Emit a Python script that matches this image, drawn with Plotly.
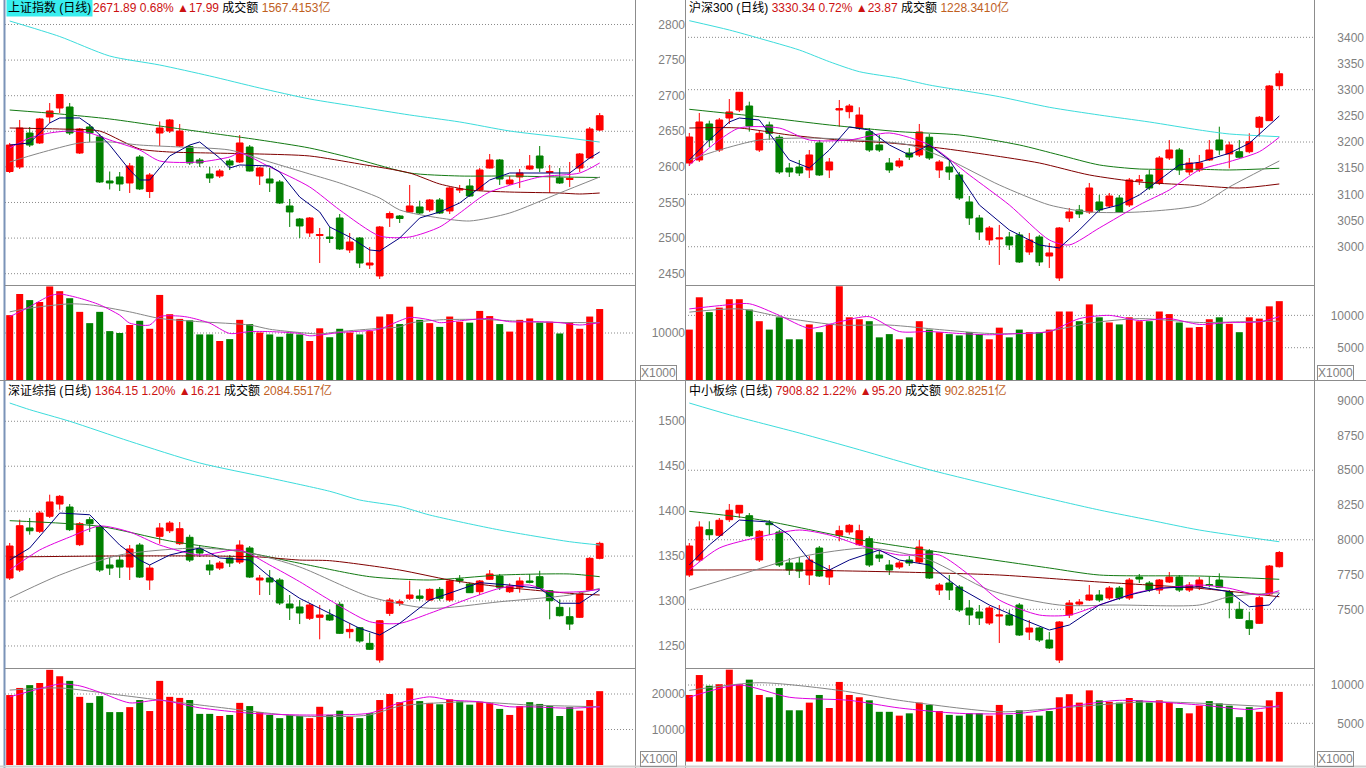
import plotly.graph_objects as go

W, H = 1366, 768
N = 60
X = list(range(N))

RED = "#ff0000"
GREEN = "#008000"
C_CYAN = "#3cdcdc"
C_DKGREEN = "#137a13"
C_MAROON = "#800000"
C_GRAY = "#868686"
C_MAG = "#e000e0"
C_NAVY = "#000080"
GRID = "#8a8a8a"
AXTXT = "#7f7f7f"
FRAME = "#8c8c8c"
FONT = "Liberation Sans, Noto Sans CJK SC, DejaVu Sans, sans-serif"

# ---------------- 上证指数 (top-left) ----------------
TL_OPEN = [2593.5, 2599.9, 2647.6, 2633.6, 2670.1, 2682.7, 2684.1, 2619.5, 2656.0, 2642.0,
           2580.2, 2585.8, 2577.4, 2613.9, 2565.4, 2647.6, 2650.4, 2629.3, 2628.6, 2609.7,
           2590.0, 2587.2, 2608.3, 2606.9, 2627.9, 2587.2, 2583.0, 2578.8, 2545.1, 2526.8,
           2507.2, 2503.6, 2501.5, 2528.2, 2483.3, 2500.1, 2462.2, 2446.8, 2528.2, 2531.0,
           2536.7, 2543.7, 2539.5, 2553.5, 2538.1, 2567.5, 2573.2, 2567.5, 2598.4, 2609.7,
           2576.0, 2585.8, 2597.0, 2615.3, 2592.1, 2584.4, 2582.3, 2598.4, 2612.5, 2651.8]
TL_HIGH = [2633.6, 2665.9, 2656.0, 2668.7, 2689.7, 2702.4, 2689.7, 2654.6, 2660.2, 2646.2,
           2593.5, 2592.8, 2605.5, 2616.7, 2591.4, 2663.8, 2667.3, 2660.2, 2630.7, 2612.5,
           2599.9, 2597.0, 2611.1, 2644.8, 2630.7, 2599.9, 2598.4, 2581.6, 2554.9, 2528.2,
           2529.6, 2514.2, 2515.6, 2533.8, 2507.2, 2501.5, 2487.5, 2517.0, 2537.4, 2532.4,
           2574.6, 2552.5, 2554.9, 2556.3, 2571.8, 2574.6, 2583.0, 2598.4, 2618.1, 2611.1,
           2587.2, 2597.0, 2616.7, 2629.3, 2602.7, 2598.4, 2606.9, 2619.5, 2656.0, 2675.7]
TL_LOW = [2591.4, 2597.0, 2627.9, 2632.2, 2661.6, 2675.7, 2644.8, 2618.1, 2635.0, 2577.4,
          2568.3, 2566.1, 2563.3, 2567.5, 2556.3, 2629.3, 2647.6, 2627.9, 2602.7, 2599.9,
          2577.4, 2584.4, 2595.6, 2605.5, 2593.5, 2574.6, 2564.7, 2547.9, 2515.6, 2500.1,
          2501.5, 2465.0, 2493.1, 2483.3, 2479.1, 2458.0, 2456.6, 2442.5, 2515.6, 2521.2,
          2536.0, 2533.8, 2536.7, 2533.8, 2533.8, 2563.3, 2557.7, 2566.1, 2597.7, 2574.6,
          2574.6, 2570.4, 2595.6, 2592.8, 2563.3, 2576.0, 2571.8, 2592.8, 2611.8, 2650.4]
TL_CLOSE = [2630.7, 2654.6, 2630.7, 2667.3, 2678.5, 2701.7, 2647.6, 2653.2, 2647.6, 2578.8,
            2577.4, 2576.0, 2601.3, 2569.0, 2588.6, 2654.6, 2665.9, 2650.4, 2605.5, 2605.5,
            2584.4, 2594.2, 2602.7, 2633.6, 2594.2, 2598.4, 2577.4, 2549.3, 2536.7, 2517.0,
            2528.2, 2505.0, 2499.4, 2484.7, 2494.5, 2465.0, 2465.0, 2515.6, 2534.5, 2527.5,
            2545.1, 2535.2, 2553.5, 2535.2, 2570.4, 2569.0, 2559.1, 2595.6, 2609.7, 2583.0,
            2581.6, 2591.4, 2601.3, 2598.4, 2593.5, 2577.4, 2583.7, 2618.1, 2653.2, 2671.89]
TL_VOL = [13800, 18300, 17000, 16600, 19900, 18900, 17400, 14500, 12100, 14500,
          10400, 10000, 11700, 12600, 10900, 18100, 14000, 13000, 12700, 9700,
          9700, 8300, 8700, 12800, 11900, 10100, 9700, 9200, 9900, 9700,
          8300, 11000, 9100, 10900, 10100, 9700, 10400, 13500, 14000, 11900,
          15600, 12800, 12100, 11300, 13500, 12400, 12200, 14700, 13600, 11900,
          10300, 12800, 13100, 12200, 12400, 9900, 12300, 10900, 13500, 15100]
TL_MA_CYAN = [(0, 2804.9), (5, 2783.1), (10, 2755.7), (15, 2743.1), (20, 2727.7), (25, 2710.8),
              (30, 2695.4), (35, 2684.1), (40, 2672.9), (45, 2663.1), (50, 2650.4), (55, 2642.0),
              (59, 2634.9)]
TL_MA_GREEN = [(0, 2679.9), (5, 2674.3), (10, 2667.3), (15, 2657.4), (20, 2647.6), (25, 2637.8),
               (30, 2626.5), (35, 2609.7), (40, 2591.4), (45, 2587.2), (50, 2587.2), (55, 2585.8),
               (59, 2585.1)]
TL_MA_MAROON = [(0, 2654.6), (5, 2653.2), (9, 2650.4), (11, 2637.8), (13, 2625.1), (16, 2620.9),
                (20, 2619.5), (25, 2618.1), (30, 2615.3), (35, 2604.1), (40, 2591.4), (43, 2576.0),
                (46, 2567.5), (50, 2564.7), (55, 2563.3), (57, 2561.9), (59, 2563.3)]
TL_MA_GRAY = [(0, 2606.9), (3, 2619.5), (7, 2633.6), (10, 2635.0), (13, 2630.7), (17, 2627.9),
              (22, 2623.7), (26, 2606.9), (30, 2590.0), (33, 2577.4), (37, 2556.3), (39, 2539.5),
              (43, 2528.2), (46, 2524.0), (50, 2535.2), (55, 2563.3), (59, 2585.8)]
TL_MA_MAG = [(0, 2626.5), (2, 2640.6), (4, 2647.6), (6, 2650.4), (8, 2647.6), (10, 2637.8),
             (13, 2623.7), (15, 2608.3), (19, 2606.9), (22, 2613.9), (23, 2619.5), (26, 2599.9),
             (30, 2571.8), (33, 2539.5), (37, 2502.9), (40, 2501.5), (43, 2515.6), (45, 2535.2),
             (47, 2556.3), (48, 2564.7), (53, 2585.8), (57, 2591.4), (59, 2605.5)]
TL_MA_NAVY = [(0, 2630.7), (2, 2633.6), (3, 2647.6), (4, 2661.6), (5, 2668.7), (7, 2668.7),
              (8, 2658.8), (10, 2630.7), (12, 2595.6), (13, 2581.6), (14, 2581.6), (16, 2615.3),
              (18, 2630.7), (19, 2635.0), (21, 2612.5), (22, 2598.4), (23, 2602.7), (26, 2601.3),
              (27, 2592.8), (29, 2557.7), (31, 2536.7), (32, 2515.6), (34, 2501.5), (36, 2483.3),
              (37, 2481.9), (39, 2500.1), (41, 2528.2), (43, 2536.7), (45, 2549.3), (46, 2560.5),
              (48, 2581.6), (50, 2591.4), (53, 2591.4), (56, 2591.4), (58, 2612.5), (59, 2620.9)]
TL_VMA_MAG = [(0, 13500), (1, 14500), (2, 15600), (4, 17900), (5, 18300), (7, 17400), (9, 16000),
              (11, 13800), (12, 12100), (14, 11700), (15, 13500), (17, 13600), (18, 13300),
              (20, 12100), (22, 9900), (24, 10300), (26, 10300), (29, 9900), (30, 9400),
              (33, 10100), (37, 10800), (38, 11700), (40, 13300), (42, 12800), (43, 12200),
              (45, 12600), (47, 13000), (48, 13100), (50, 12400), (53, 12400), (55, 12200),
              (57, 11700), (59, 12200)]
TL_VMA_GRAY = [(0, 14500), (2, 15300), (6, 16200), (8, 16000), (12, 14500), (15, 13100),
               (19, 12400), (24, 11700), (26, 10800), (29, 10100), (31, 9800), (33, 10300),
               (37, 11000), (39, 11300), (40, 12100), (43, 12800), (47, 12900), (50, 12600),
               (53, 12300), (59, 12200)]

# ---------------- 沪深300 (top-right) ----------------
TR_OPEN = [3160.0, 3165.7, 3234.5, 3184.8, 3245.9, 3261.2, 3268.8, 3184.8, 3232.6, 3209.1,
           3150.4, 3152.3, 3146.6, 3198.2, 3146.6, 3261.2, 3258.0, 3226.2, 3219.8, 3194.4,
           3160.0, 3154.2, 3179.1, 3175.3, 3209.1, 3146.6, 3152.3, 3137.1, 3085.5, 3054.9,
           3012.9, 3014.8, 3018.6, 3022.5, 2990.0, 3018.6, 2982.3, 2940.3, 3054.9, 3070.2,
           3066.4, 3085.5, 3077.8, 3093.1, 3079.8, 3125.6, 3137.1, 3121.8, 3169.5, 3184.8,
           3142.8, 3146.6, 3165.7, 3203.9, 3177.2, 3181.5, 3181.5, 3228.2, 3240.8, 3307.6]
TR_HIGH = [3217.3, 3255.5, 3240.8, 3245.9, 3282.2, 3295.6, 3277.1, 3221.1, 3238.9, 3213.5,
           3160.0, 3165.7, 3184.8, 3203.9, 3169.5, 3280.3, 3272.7, 3266.4, 3226.8, 3213.5,
           3169.5, 3169.5, 3188.6, 3234.5, 3215.4, 3165.7, 3165.7, 3142.8, 3096.9, 3060.7,
           3039.6, 3041.6, 3028.2, 3028.2, 3026.3, 3022.5, 3007.2, 3037.7, 3074.0, 3079.8,
           3121.8, 3098.9, 3102.7, 3098.9, 3131.3, 3137.1, 3146.6, 3173.3, 3203.9, 3188.6,
           3169.5, 3175.3, 3203.9, 3229.3, 3200.7, 3203.9, 3216.7, 3249.7, 3308.9, 3336.3]
TR_LOW = [3154.2, 3161.9, 3190.5, 3181.0, 3234.5, 3257.4, 3219.8, 3181.0, 3203.9, 3139.0,
          3133.2, 3135.1, 3131.3, 3135.1, 3131.3, 3229.3, 3245.3, 3223.0, 3181.0, 3181.0,
          3141.0, 3150.4, 3165.7, 3171.4, 3165.7, 3131.3, 3127.5, 3089.3, 3041.6, 3012.9,
          3003.4, 2965.2, 2993.8, 2969.0, 2984.3, 2963.2, 2959.4, 2934.6, 3047.3, 3054.9,
          3062.6, 3066.4, 3074.0, 3064.5, 3075.9, 3118.0, 3108.4, 3118.0, 3165.7, 3137.1,
          3137.1, 3142.8, 3163.8, 3175.3, 3149.8, 3169.5, 3178.5, 3210.2, 3240.2, 3299.4]
TR_CLOSE = [3209.6, 3238.3, 3203.9, 3242.1, 3257.4, 3295.0, 3230.6, 3216.7, 3216.7, 3142.8,
            3142.8, 3140.9, 3175.3, 3137.1, 3161.9, 3263.7, 3268.8, 3251.6, 3184.8, 3184.8,
            3146.6, 3163.8, 3171.4, 3219.2, 3169.5, 3161.9, 3142.8, 3093.1, 3054.9, 3028.2,
            3035.8, 3016.7, 3003.4, 2970.9, 3012.9, 2970.9, 2988.1, 3035.8, 3066.4, 3062.6,
            3112.2, 3070.2, 3096.9, 3066.4, 3127.5, 3127.5, 3112.2, 3169.5, 3184.8, 3146.6,
            3160.0, 3160.0, 3184.8, 3184.8, 3194.4, 3170.9, 3200.7, 3247.3, 3307.0, 3330.34]
TR_VOL = [7800, 12800, 10500, 11200, 12500, 12500, 10900, 9100, 7800, 9700,
          6300, 6300, 8600, 7400, 8600, 14500, 9700, 9400, 9100, 6600,
          7100, 6300, 6600, 9100, 7800, 7400, 7100, 6900, 7400, 7100,
          6300, 8100, 6600, 7800, 7400, 7400, 7800, 10600, 10600, 9100,
          11700, 9700, 8900, 8600, 9700, 9100, 9100, 10600, 10200, 8900,
          8100, 8200, 9400, 9700, 8700, 7400, 9700, 9500, 11400, 12200]
TR_MA_CYAN = [(0, 3431.8), (4, 3414.0), (7, 3398.1), (11, 3375.8), (14, 3353.5), (17, 3334.4),
              (21, 3321.7), (24, 3308.9), (27, 3299.4), (31, 3286.6), (36, 3266.4), (41, 3251.6),
              (46, 3238.3), (51, 3223.0), (54, 3215.4), (59, 3210.2)]
TR_MA_GREEN = [(0, 3262.5), (7, 3248.4), (14, 3232.6), (21, 3219.8), (27, 3213.5), (33, 3194.4),
               (37, 3175.3), (41, 3156.2), (45, 3148.5), (51, 3147.9), (54, 3146.6), (59, 3149.9)]
TR_MA_MAROON = [(0, 3226.8), (5, 3226.8), (10, 3213.5), (15, 3203.9), (20, 3198.2), (25, 3188.6),
                (30, 3175.3), (35, 3160.0), (40, 3137.1), (45, 3123.7), (50, 3118.0), (55, 3112.2),
                (59, 3119.9)]
TR_MA_GRAY = [(0, 3165.7), (3, 3184.8), (7, 3203.9), (12, 3207.7), (17, 3203.9), (22, 3194.4),
              (26, 3165.7), (31, 3118.0), (36, 3079.8), (40, 3066.4), (45, 3066.4), (51, 3079.8),
              (54, 3114.1), (59, 3163.8)]
TR_MA_MAG = [(0, 3156.2), (3, 3203.9), (5, 3226.8), (9, 3226.8), (12, 3203.9), (16, 3203.9),
             (20, 3217.3), (24, 3194.4), (28, 3137.1), (32, 3079.8), (36, 3012.9), (38, 3003.4),
             (41, 3035.8), (45, 3079.8), (48, 3108.4), (51, 3146.6), (54, 3162.5), (57, 3181.5),
             (59, 3209.1)]
TR_MA_NAVY = [(0, 3165.7), (2, 3203.9), (4, 3238.3), (5, 3245.9), (7, 3242.1), (10, 3165.7),
              (12, 3150.4), (14, 3184.8), (16, 3228.7), (18, 3223.0), (20, 3194.4), (22, 3175.3),
              (24, 3194.4), (26, 3165.7), (29, 3079.8), (32, 3032.0), (35, 3003.4), (37, 2997.6),
              (39, 3032.0), (41, 3070.2), (43, 3079.8), (45, 3098.9), (47, 3127.5), (49, 3156.2),
              (51, 3161.3), (54, 3178.5), (56, 3197.6), (59, 3249.7)]
TR_VMA_MAG = [(0, 11000), (3, 11500), (6, 11800), (9, 10000), (12, 8000), (15, 9000), (18, 9800),
              (21, 7500), (24, 7500), (27, 7200), (30, 7000), (33, 7200), (36, 7500), (39, 9500),
              (42, 10000), (45, 9200), (48, 9500), (51, 8600), (54, 8900), (57, 9000), (59, 9800)]
TR_VMA_GRAY = [(0, 10500), (5, 11000), (10, 9500), (15, 8500), (20, 8500), (25, 7800), (30, 7200),
               (35, 7300), (40, 8800), (45, 9500), (51, 8900), (55, 9000), (59, 9100)]

# ---------------- 深证综指 (bottom-left) ----------------
BL_OPEN = [1325.6, 1334.5, 1381.3, 1377.6, 1394.3, 1407.9, 1404.6, 1362.7, 1390.5, 1382.4,
           1340.1, 1345.6, 1337.8, 1362.3, 1323.4, 1372.0, 1378.2, 1363.8, 1370.9, 1357.9,
           1340.1, 1336.7, 1347.9, 1343.4, 1359.0, 1323.4, 1325.6, 1323.4, 1296.7, 1293.4,
           1280.8, 1281.9, 1284.5, 1296.4, 1265.9, 1270.3, 1252.9, 1234.4, 1286.3, 1297.5,
           1303.0, 1305.6, 1301.1, 1313.0, 1301.1, 1324.5, 1318.9, 1310.4, 1324.2, 1327.8,
           1310.4, 1315.3, 1322.3, 1327.1, 1311.5, 1293.0, 1282.6, 1281.9, 1312.3, 1347.5]
BL_HIGH = [1364.6, 1390.5, 1392.4, 1400.2, 1418.3, 1417.9, 1407.9, 1387.9, 1393.5, 1384.6,
           1347.9, 1350.1, 1362.3, 1364.6, 1340.1, 1386.8, 1389.0, 1387.9, 1373.8, 1362.3,
           1345.6, 1344.5, 1351.2, 1367.6, 1361.2, 1329.0, 1334.5, 1325.6, 1306.7, 1301.1,
           1297.8, 1295.6, 1290.8, 1299.2, 1275.2, 1271.1, 1264.7, 1278.9, 1303.4, 1301.9,
           1322.6, 1313.0, 1314.2, 1315.6, 1324.2, 1328.9, 1320.4, 1323.4, 1334.5, 1330.1,
           1319.7, 1326.4, 1330.1, 1333.7, 1312.3, 1301.9, 1293.0, 1310.4, 1348.9, 1366.0]
BL_LOW = [1323.4, 1332.3, 1373.8, 1375.7, 1392.4, 1401.6, 1377.9, 1361.2, 1376.8, 1332.3,
          1329.0, 1325.6, 1323.4, 1325.6, 1312.3, 1363.8, 1375.7, 1362.3, 1343.4, 1349.0,
          1329.0, 1334.5, 1337.8, 1341.2, 1325.6, 1306.7, 1306.7, 1295.6, 1278.9, 1274.4,
          1278.9, 1257.4, 1277.8, 1263.3, 1258.5, 1253.6, 1245.5, 1231.4, 1283.4, 1294.5,
          1301.1, 1300.4, 1300.0, 1300.4, 1299.2, 1319.7, 1308.9, 1306.7, 1323.4, 1312.3,
          1308.9, 1309.3, 1319.7, 1313.4, 1279.7, 1282.8, 1267.8, 1281.1, 1311.2, 1346.4]
BL_CLOSE = [1361.2, 1383.8, 1378.2, 1397.9, 1410.2, 1416.5, 1379.4, 1386.0, 1386.0, 1334.5,
            1336.7, 1337.8, 1357.9, 1326.7, 1336.7, 1381.3, 1386.8, 1380.5, 1345.6, 1353.4,
            1334.5, 1342.3, 1342.3, 1362.3, 1326.7, 1325.6, 1321.2, 1297.8, 1292.3, 1286.7,
            1295.6, 1284.5, 1278.9, 1264.1, 1268.5, 1255.5, 1246.3, 1278.1, 1301.1, 1299.2,
            1306.7, 1303.0, 1313.0, 1303.0, 1322.3, 1322.6, 1309.3, 1322.3, 1330.1, 1315.3,
            1316.7, 1322.3, 1320.8, 1314.2, 1300.4, 1283.7, 1274.4, 1308.6, 1347.5, 1364.15]
BL_VOL = [19700, 21700, 22500, 23100, 26800, 25000, 23700, 19200, 17500, 19400,
          14900, 14900, 16300, 18300, 15200, 23700, 19200, 18900, 18300, 14400,
          14400, 13800, 14100, 17500, 16600, 14900, 14100, 13200, 14100, 13800,
          13200, 16400, 14100, 15300, 13600, 13200, 14600, 18300, 20000, 17700,
          21600, 18000, 17500, 17100, 18500, 17900, 17000, 17800, 17400, 15800,
          14100, 16600, 17700, 17200, 16600, 13800, 16300, 15300, 18300, 20800]
BL_MA_CYAN = [(0, 1520.3), (2, 1512.9), (6, 1500.0), (12, 1477.7), (19, 1453.6), (26, 1436.9),
              (32, 1422.1), (35, 1412.4), (39, 1405.3), (42, 1395.7), (49, 1379.0), (56, 1366.0),
              (59, 1362.3)]
BL_MA_GREEN = [(0, 1389.4), (9, 1383.1), (16, 1366.8), (24, 1353.4), (29, 1342.0), (36, 1327.1),
               (42, 1323.4), (49, 1328.9), (56, 1330.1), (59, 1327.1)]
BL_MA_MAROON = [(0, 1349.0), (10, 1350.1), (20, 1350.1), (25, 1349.0), (29, 1345.6), (32, 1344.9),
                (39, 1334.5), (44, 1323.4), (49, 1315.9), (56, 1308.6), (59, 1306.7)]
BL_MA_GRAY = [(0, 1303.4), (5, 1328.9), (11, 1351.2), (19, 1359.0), (24, 1353.4), (29, 1337.9),
              (36, 1304.8), (42, 1291.9), (49, 1299.2), (56, 1306.7), (59, 1314.1)]
BL_MA_MAG = [(0, 1334.5), (3, 1356.8), (6, 1371.2), (9, 1383.5), (12, 1376.8), (15, 1362.3),
             (19, 1351.2), (23, 1356.8), (26, 1340.1), (29, 1321.5), (32, 1301.1), (36, 1277.0),
             (39, 1275.2), (42, 1286.3), (46, 1303.0), (49, 1314.1), (52, 1317.8), (54, 1310.4),
             (57, 1310.4), (59, 1313.0)]
BL_MA_NAVY = [(0, 1345.6), (2, 1359.0), (5, 1397.9), (8, 1396.0), (9, 1384.9), (11, 1362.3),
              (13, 1345.6), (14, 1340.1), (16, 1351.2), (19, 1359.0), (21, 1347.9), (24, 1345.6),
              (27, 1317.8), (29, 1303.0), (32, 1286.3), (35, 1269.6), (37, 1262.2), (39, 1275.2),
              (42, 1301.1), (45, 1312.3), (47, 1320.4), (50, 1317.8), (53, 1314.1), (55, 1297.5),
              (57, 1297.5), (59, 1312.3)]
BL_VMA_MAG = [(0, 19200), (3, 21500), (5, 22800), (7, 22300), (9, 20500), (12, 17500),
              (15, 18300), (19, 16100), (24, 14600), (29, 14100), (32, 14100), (36, 14600),
              (39, 17500), (42, 19200), (44, 18300), (47, 17800), (50, 16400), (52, 16400),
              (56, 16000), (59, 16400)]
BL_VMA_GRAY = [(0, 21100), (5, 21700), (11, 19700), (19, 16900), (29, 13800), (36, 14100),
               (39, 16600), (46, 17800), (52, 16900), (59, 16400)]

# ---------------- 中小板综 (bottom-right) ----------------
BR_OPEN = [7746.7, 7854.5, 8072.4, 8032.3, 8144.5, 8192.4, 8173.0, 7854.5, 8120.7, 8055.8,
           7833.0, 7833.0, 7746.7, 7940.8, 7732.3, 8032.3, 8055.8, 7964.5, 8007.7, 7890.5,
           7818.6, 7804.2, 7854.5, 7840.1, 7919.2, 7638.8, 7689.1, 7660.3, 7509.4, 7480.6,
           7401.5, 7451.9, 7459.0, 7531.0, 7336.8, 7365.5, 7279.3, 7135.4, 7459.0, 7538.1,
           7566.9, 7602.9, 7581.3, 7653.1, 7581.3, 7732.3, 7689.1, 7638.8, 7696.3, 7732.3,
           7638.8, 7660.3, 7678.4, 7710.7, 7626.6, 7500.0, 7418.1, 7399.4, 7610.0, 7806.3]
BR_HIGH = [7976.8, 8132.8, 8132.8, 8156.7, 8257.4, 8250.0, 8192.4, 8070.2, 8142.1, 8070.2,
           7868.9, 7876.1, 7883.3, 7955.2, 7818.6, 8101.3, 8113.5, 8108.5, 8025.0, 7926.4,
           7854.5, 7847.3, 7883.3, 7998.3, 7933.6, 7689.1, 7746.7, 7674.7, 7566.9, 7531.0,
           7523.8, 7531.0, 7495.0, 7545.3, 7423.1, 7372.7, 7336.8, 7416.0, 7566.9, 7574.1,
           7674.7, 7638.8, 7667.5, 7667.5, 7725.1, 7753.9, 7703.5, 7717.9, 7768.2, 7746.7,
           7696.3, 7732.3, 7734.5, 7758.8, 7638.8, 7554.7, 7482.8, 7595.7, 7818.6, 7919.2]
BR_LOW = [7732.3, 7840.1, 7998.3, 8020.1, 8128.0, 8156.7, 8020.1, 7840.1, 8034.3, 7804.2,
          7746.7, 7725.1, 7674.7, 7732.3, 7674.7, 7989.0, 8036.4, 7955.2, 7804.2, 7840.1,
          7746.7, 7789.8, 7811.4, 7825.8, 7717.9, 7602.9, 7566.9, 7480.6, 7387.1, 7387.1,
          7387.1, 7257.7, 7379.9, 7308.1, 7279.3, 7264.9, 7214.6, 7113.9, 7437.5, 7523.8,
          7559.7, 7552.5, 7566.9, 7566.9, 7566.9, 7689.1, 7624.4, 7610.0, 7689.1, 7624.4,
          7624.4, 7638.8, 7658.2, 7653.1, 7435.2, 7430.2, 7315.3, 7394.4, 7602.9, 7800.6]
BR_CLOSE = [7955.2, 8091.8, 8036.4, 8140.2, 8212.1, 8247.8, 8029.2, 8060.9, 8108.5, 7818.6,
            7782.6, 7775.4, 7854.5, 7739.5, 7782.6, 8065.3, 8104.1, 8065.3, 7818.6, 7868.9,
            7782.6, 7833.0, 7833.0, 7948.0, 7725.1, 7674.7, 7638.8, 7495.0, 7459.0, 7437.5,
            7509.4, 7459.0, 7387.1, 7315.3, 7365.5, 7279.3, 7221.8, 7408.8, 7545.3, 7552.5,
            7602.9, 7566.9, 7653.1, 7581.3, 7710.7, 7717.9, 7638.8, 7710.7, 7732.3, 7638.8,
            7674.7, 7710.7, 7671.2, 7658.2, 7547.5, 7435.2, 7363.4, 7583.4, 7811.3, 7908.82]
BR_VOL = [8700, 11300, 9900, 10100, 12000, 10100, 10700, 8700, 8400, 9600,
          6700, 6700, 7700, 8700, 7000, 10400, 8700, 8400, 8000, 6500,
          6500, 6000, 6300, 7700, 7400, 6600, 6100, 6000, 6300, 6300,
          6000, 7400, 6100, 6700, 6000, 6000, 6600, 8400, 8800, 7700,
          9300, 8000, 7800, 7700, 8300, 8000, 7700, 8000, 7700, 7000,
          6300, 7300, 7900, 7600, 7300, 5800, 7100, 6500, 8000, 9100]
BR_MA_CYAN = [(0, 8983.4), (4, 8899.2), (11, 8767.7), (17, 8647.6), (24, 8503.8), (34, 8329.1),
              (41, 8214.0), (46, 8142.1), (51, 8070.2), (59, 7986.1)]
BR_MA_GREEN = [(0, 8204.7), (7, 8144.5), (17, 8000.5), (27, 7890.5), (36, 7797.1), (41, 7746.7),
               (51, 7739.5), (59, 7715.8)]
BR_MA_MAROON = [(0, 7782.6), (10, 7782.6), (21, 7768.2), (31, 7746.7), (41, 7696.3), (51, 7650.9),
                (59, 7590.5)]
BR_MA_GRAY = [(0, 7638.8), (5, 7746.7), (11, 7876.1), (18, 7940.8), (24, 7854.5), (30, 7638.8),
              (37, 7530.9), (43, 7530.9), (51, 7530.9), (54, 7590.5), (59, 7619.3)]
BR_MA_MAG = [(0, 7782.6), (3, 7940.8), (7, 8019.9), (11, 8070.2), (14, 8034.3), (17, 7962.4),
             (21, 7890.5), (25, 7890.5), (28, 7746.7), (31, 7566.9), (35, 7459.0), (38, 7459.0),
             (41, 7530.9), (45, 7624.4), (51, 7674.7), (54, 7651.0), (57, 7602.9), (59, 7633.8)]
BR_MA_NAVY = [(0, 7818.6), (2, 7962.4), (5, 8142.1), (8, 8127.7), (10, 8034.3), (12, 7854.5),
              (14, 7782.6), (16, 7854.5), (19, 7926.4), (21, 7854.5), (24, 7818.6), (27, 7653.2),
              (30, 7531.0), (33, 7437.5), (36, 7351.2), (38, 7387.1), (41, 7531.0), (44, 7602.9),
              (47, 7653.2), (51, 7662.5), (54, 7626.6), (56, 7518.7), (58, 7531.0), (59, 7615.1)]
BR_VMA_MAG = [(0, 8400), (5, 10000), (10, 8400), (16, 8000), (21, 7000), (27, 6300), (33, 6300),
              (39, 7400), (43, 8000), (51, 7400), (56, 6800), (59, 7300)]
BR_VMA_GRAY = [(0, 9300), (7, 10300), (15, 9300), (21, 8000), (31, 6500), (37, 7000), (46, 7800),
               (59, 7100)]

# ---------------- axis ticks / grid values ----------------
TL_TICKS = [2450, 2500, 2550, 2600, 2650, 2700, 2750, 2800]
TL_GRID = [2450, 2500, 2550, 2600, 2650, 2700, 2750, 2800]
TR_TICKS = [3000, 3050, 3100, 3150, 3200, 3250, 3300, 3350, 3400]
TR_GRID = [3000, 3100, 3200, 3300, 3400]
BL_TICKS = [1250, 1300, 1350, 1400, 1450, 1500]
BL_GRID = [1250, 1300, 1350, 1400, 1450, 1500]
BR_TICKS = [7500, 7750, 8000, 8250, 8500, 8750, 9000]
BR_GRID = [7500, 8000, 8500]
TL_VTICKS = [10000]
TR_VTICKS = [5000, 10000]
BL_VTICKS = [10000, 20000]
BR_VTICKS = [5000, 10000]

HEADERS = [
    ("上证指数 (日线)", "2671.89 0.68%", "▲17.99", "1567.4153亿"),
    ("沪深300 (日线)", "3330.34 0.72%", "▲23.87", "1228.3410亿"),
    ("深证综指 (日线)", "1364.15 1.20%", "▲16.21", "2084.5517亿"),
    ("中小板综 (日线)", "7908.82 1.22%", "▲95.20", "902.8251亿"),
]


def fx(p):
    return p / W


def fy(p):
    return 1 - p / H


panels = [
    dict(o=TL_OPEN, h=TL_HIGH, l=TL_LOW, c=TL_CLOSE, v=TL_VOL,
         mas=[TL_MA_CYAN, TL_MA_GREEN, TL_MA_MAROON, TL_MA_GRAY, TL_MA_MAG, TL_MA_NAVY],
         vmas=[TL_VMA_GRAY, TL_VMA_MAG], ticks=TL_TICKS, grid=TL_GRID, vticks=TL_VTICKS,
         xpx=(5, 635), xr=(-0.47, 62.53), ppx=(0, 285), pr=(2434.1, 2834.4),
         vpx=(285, 380), vr=(0, 20213), lab=685),
    dict(o=TR_OPEN, h=TR_HIGH, l=TR_LOW, c=TR_CLOSE, v=TR_VOL,
         mas=[TR_MA_CYAN, TR_MA_GREEN, TR_MA_MAROON, TR_MA_GRAY, TR_MA_MAG, TR_MA_NAVY],
         vmas=[TR_VMA_GRAY, TR_VMA_MAG], ticks=TR_TICKS, grid=TR_GRID, vticks=TR_VTICKS,
         xpx=(685, 1314), xr=(-0.43, 62.47), ppx=(0, 285), pr=(2926.9, 3471.3),
         vpx=(285, 380), vr=(0, 14700), lab=1364),
    dict(o=BL_OPEN, h=BL_HIGH, l=BL_LOW, c=BL_CLOSE, v=BL_VOL,
         mas=[BL_MA_CYAN, BL_MA_GREEN, BL_MA_MAROON, BL_MA_GRAY, BL_MA_MAG, BL_MA_NAVY],
         vmas=[BL_VMA_GRAY, BL_VMA_MAG], ticks=BL_TICKS, grid=BL_GRID, vticks=BL_VTICKS,
         xpx=(5, 635), xr=(-0.47, 62.53), ppx=(381, 668), pr=(1225.5, 1544.8),
         vpx=(668, 766), vr=(-282, 27324), lab=685),
    dict(o=BR_OPEN, h=BR_HIGH, l=BR_LOW, c=BR_CLOSE, v=BR_VOL,
         mas=[BR_MA_CYAN, BR_MA_GREEN, BR_MA_MAROON, BR_MA_GRAY, BR_MA_MAG, BR_MA_NAVY],
         vmas=[BR_VMA_GRAY, BR_VMA_MAG], ticks=BR_TICKS, grid=BR_GRID, vticks=BR_VTICKS,
         xpx=(685, 1314), xr=(-0.43, 62.47), ppx=(381, 668), pr=(7078.1, 9141.7),
         vpx=(668, 766), vr=(-574, 12219), lab=1364),
]

MA_COLORS = [C_CYAN, C_DKGREEN, C_MAROON, C_GRAY, C_MAG, C_NAVY]
VMA_COLORS = [C_GRAY, C_MAG]

fig = go.Figure()
layout = {}
shapes = []
annotations = []


def ax_name(kind, n):
    return kind + "axis" + ("" if n == 1 else str(n))


def ref(kind, n):
    return kind + ("" if n == 1 else str(n))


tickfont = dict(family=FONT, size=12, color=AXTXT)

for k, p in enumerate(panels):
    np_, nv = 2 * k + 1, 2 * k + 2
    xp, yp, xv, yv = ref("x", np_), ref("y", np_), ref("x", nv), ref("y", nv)

    # candles
    fig.add_trace(go.Candlestick(
        x=X, open=p["o"], high=p["h"], low=p["l"], close=p["c"],
        increasing=dict(line=dict(color=RED, width=1), fillcolor=RED),
        decreasing=dict(line=dict(color=GREEN, width=1), fillcolor=GREEN),
        whiskerwidth=0, xaxis=xp, yaxis=yp, hoverinfo="skip"))
    # moving averages
    for ma, col in zip(p["mas"], MA_COLORS):
        fig.add_trace(go.Scatter(
            x=[a for a, _ in ma], y=[b for _, b in ma], mode="lines",
            line=dict(color=col, width=1, shape="linear" if col == C_NAVY else "spline",
                      smoothing=0.7),
            xaxis=xp, yaxis=yp, hoverinfo="skip"))
    # volume
    vcols = [RED if c >= o else GREEN for o, c in zip(p["o"], p["c"])]
    fig.add_trace(go.Bar(x=X, y=p["v"], marker=dict(color=vcols, line=dict(width=0)),
                         width=0.7, xaxis=xv, yaxis=yv, hoverinfo="skip"))
    for ma, col in zip(p["vmas"], VMA_COLORS):
        fig.add_trace(go.Scatter(
            x=[a for a, _ in ma], y=[b for _, b in ma], mode="lines",
            line=dict(color=col, width=1, shape="spline", smoothing=0.7),
            xaxis=xv, yaxis=yv, hoverinfo="skip"))

    xdom = [fx(p["xpx"][0]), fx(p["xpx"][1])]
    pdom = [fy(p["ppx"][1]), fy(p["ppx"][0])]
    vdom = [fy(p["vpx"][1]), fy(p["vpx"][0])]
    common_x = dict(domain=xdom, range=list(p["xr"]), visible=False, fixedrange=True)
    layout[ax_name("x", np_)] = dict(common_x, anchor=yp, rangeslider=dict(visible=False))
    layout[ax_name("x", nv)] = dict(common_x, anchor=yv)
    common_y = dict(anchor="free", position=min(fx(p["lab"]), 1.0), side="left",
                    showgrid=False, zeroline=False, showline=False, ticks="",
                    tickfont=tickfont, fixedrange=True)
    layout[ax_name("y", np_)] = dict(common_y, domain=pdom, range=list(p["pr"]),
                                     tickmode="array", tickvals=p["ticks"],
                                     ticktext=[str(t) for t in p["ticks"]])
    layout[ax_name("y", nv)] = dict(common_y, domain=vdom, range=list(p["vr"]),
                                    tickmode="array", tickvals=p["vticks"],
                                    ticktext=[str(t) for t in p["vticks"]])

    # dotted grid lines
    for g in p["grid"]:
        shapes.append(dict(type="line", xref=xp + " domain", yref=yp, x0=0, x1=1, y0=g, y1=g,
                           line=dict(color=GRID, width=1, dash="1px,2px"), layer="below"))
    for g in p["vticks"]:
        shapes.append(dict(type="line", xref=xv + " domain", yref=yv, x0=0, x1=1, y0=g, y1=g,
                           line=dict(color=GRID, width=1, dash="1px,2px"), layer="below"))

    # header
    name, px_, chg, amt = HEADERS[k]
    hx = p["xpx"][0] + 1 if k in (0, 2) else p["xpx"][0] + 2
    hy = p["ppx"][0] + 7 if k < 2 else p["ppx"][0] + 9
    rest = ("<span style='color:#cc1111'>%s</span> <span style='color:#cc1111'>%s</span> "
            "<span style='color:#000000'>成交额</span> <span style='color:#c0601e'>%s</span>"
            % (px_, chg, amt))
    if k == 0:
        annotations.append(dict(text=name, x=fx(hx), y=fy(hy), xref="paper", yref="paper",
                                xanchor="left", yanchor="middle", showarrow=False,
                                bgcolor="#38eeee", borderpad=1,
                                font=dict(family=FONT, size=12, color="#000000")))
        annotations.append(dict(text=rest, x=fx(91), y=fy(hy), xref="paper", yref="paper",
                                xanchor="left", yanchor="middle", showarrow=False,
                                font=dict(family=FONT, size=12, color="#000000")))
    else:
        annotations.append(dict(text=name + " " + rest, x=fx(hx), y=fy(hy), xref="paper",
                                yref="paper", xanchor="left", yanchor="middle", showarrow=False,
                                font=dict(family=FONT, size=12, color="#000000")))

    # X1000 label box
    bx = 658 if k in (0, 2) else 1335
    by = p["vpx"][1] - 7
    annotations.append(dict(text="X1000", x=fx(bx), y=fy(by), xref="paper", yref="paper",
                            xanchor="center", yanchor="middle", showarrow=False,
                            bordercolor=FRAME, borderwidth=1, borderpad=0,
                            font=dict(family=FONT, size=12, color=AXTXT)))


# frame lines (paper coordinates)
def hline(y, x0, x1, color=FRAME, w=1):
    shapes.append(dict(type="line", xref="paper", yref="paper", x0=fx(x0), x1=fx(x1),
                       y0=fy(y), y1=fy(y), line=dict(color=color, width=w)))


def vline(x, y0, y1, color=FRAME, w=1):
    shapes.append(dict(type="line", xref="paper", yref="paper", x0=fx(x), x1=fx(x),
                       y0=fy(y0), y1=fy(y1), line=dict(color=color, width=w)))


vline(635.5, 0, 768)
vline(685.5, 0, 768)
vline(1314.5, 0, 768)
vline(4.5, 0, 768, color="#7b93b8", w=2)
hline(285.5, 5, 635)
hline(285.5, 685, 1314)
hline(380.5, 0, 1366)
hline(668.5, 5, 635)
hline(668.5, 685, 1314)
hline(766.5, 0, 1366, color="#d0d0d0", w=2)

layout.update(dict(
    width=W, height=H, margin=dict(l=0, r=0, t=0, b=0),
    paper_bgcolor="#ffffff", plot_bgcolor="#ffffff", showlegend=False,
    boxgap=0.33, boxgroupgap=0, bargap=0.3,
    shapes=shapes, annotations=annotations, hovermode=False,
    font=dict(family=FONT, size=12),
))
fig.update_layout(**layout)
fig.write_html("out.html", include_plotlyjs=True, config={"displayModeBar": False})
